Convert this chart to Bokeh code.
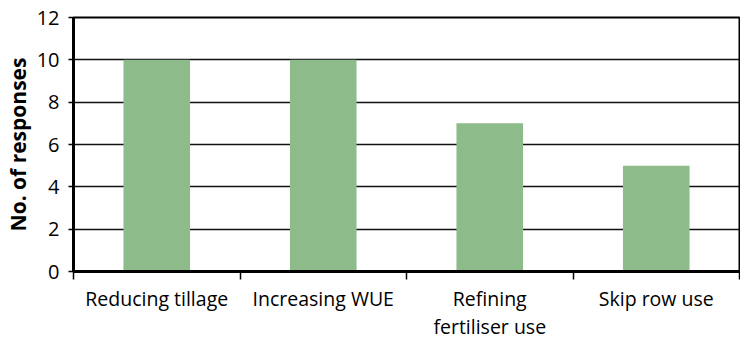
from bokeh.plotting import figure
from bokeh.models import FixedTicker, Range1d
from bokeh.embed import file_html
from bokeh.resources import INLINE

categories = ["Reducing tillage", "Increasing WUE", "Refining\nfertiliser use", "Skip row use"]
responses = [10, 10, 7, 5]
y_ticks = [0, 2, 4, 6, 8, 10, 12]

n = len(categories)
xs = [i + 0.5 for i in range(n)]
bounds = list(range(n + 1))

FONT = "Open Sans"

p = figure(width=740, height=342, output_backend="svg", toolbar_location=None,
           x_range=Range1d(0, n), y_range=Range1d(0, max(y_ticks)),
           min_border_left=71, min_border_right=1, min_border_top=17, min_border_bottom=68,
           background_fill_color="white", border_fill_color="white")

p.vbar(x=xs, top=responses, width=0.4, fill_color="#8dbb8a", line_color=None)

# x axis
p.xaxis.ticker = FixedTicker(ticks=xs, minor_ticks=bounds)
p.xaxis.major_label_overrides = {x: c for x, c in zip(xs, categories)}
p.xaxis.major_tick_out = 0
p.xaxis.major_tick_in = 0
p.xaxis.minor_tick_out = 8
p.xaxis.minor_tick_in = 0
p.xaxis.minor_tick_line_color = "black"
p.xaxis.minor_tick_line_width = 1.5
p.xaxis.major_label_standoff = 5
p.xaxis.major_label_text_font = FONT
p.xaxis.major_label_text_font_size = "19.5px"
p.xaxis.major_label_text_line_height = 1.05
p.xaxis.major_label_text_color = "black"
p.xaxis.axis_line_width = 3
p.xaxis.axis_line_color = "black"

# y axis
p.yaxis.ticker = FixedTicker(ticks=y_ticks, minor_ticks=[])
p.yaxis.major_tick_out = 5
p.yaxis.major_tick_in = 0
p.yaxis.major_tick_line_width = 1.5
p.yaxis.major_tick_line_color = "black"
p.yaxis.major_label_standoff = 9
p.yaxis.major_label_text_font = FONT
p.yaxis.major_label_text_font_size = "20px"
p.yaxis.major_label_text_color = "black"
p.yaxis.axis_line_width = 3
p.yaxis.axis_line_color = "black"
p.yaxis.axis_label = "No. of responses"
p.yaxis.axis_label_text_font = FONT
p.yaxis.axis_label_text_font_style = "bold"
p.yaxis.axis_label_text_font_size = "21px"
p.yaxis.axis_label_text_color = "black"
p.yaxis.axis_label_standoff = 2

# grid
p.xgrid.visible = False
p.ygrid.ticker = FixedTicker(ticks=y_ticks)
p.ygrid.grid_line_color = "#111111"
p.ygrid.grid_line_width = 1.6

p.outline_line_color = "black"
p.outline_line_width = 2

open("out.html", "w").write(file_html(p, INLINE))
